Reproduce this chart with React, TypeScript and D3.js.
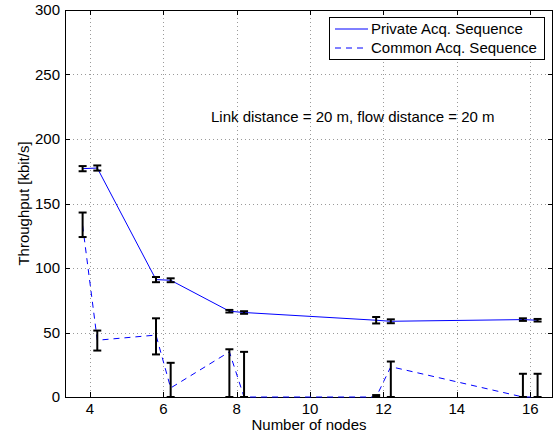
import * as d3 from "d3";
import React from "react";

// node counts are drawn with a small left/right offset per series pair
const xPos = [3.8, 4.2, 5.8, 6.2, 7.8, 8.2, 11.8, 12.2, 15.8, 16.2];
const privateMean = [177, 177.5, 91, 90.5, 66.5, 65.5, 59.5, 58.7, 60, 59.5];
const privateErr = [2, 2, 2, 1.5, 1, 1, 2.5, 1.5, 1, 1];
const commonMean = [133, 44, 48, 7, 35, 0, 0, 23.5, 0, 0];
const commonLo = [124, 36, 33, 0, 0, 0, 0, 0, 0, 0];
const commonHi = [143, 51.5, 61, 26.5, 37, 35, 1.5, 27.5, 18, 18];
const xTicks = [4, 6, 8, 10, 12, 14, 16];
const yTicks = [0, 50, 100, 150, 200, 250, 300];
const legendLabels = ["Private Acq. Sequence", "Common Acq. Sequence"];

const W = 555;
const H = 435;
const FONT = "'Liberation Sans', Arial, Helvetica, sans-serif";
const FS = 15;

const App = () => {
  const ref = React.useRef<SVGSVGElement>(null);

  React.useEffect(() => {
    const svg = d3.select(ref.current);
    svg.selectAll("*").remove();

    const left = 65, right = 553, top = 10, bottom = 397;
    const x = d3.scaleLinear().domain([3.32, 16.62]).range([left, right]);
    const y = d3.scaleLinear().domain([0, 300]).range([bottom, top]);

    svg.append("rect").attr("width", W).attr("height", H).attr("fill", "white");

    // grid
    const grid = svg.append("g").attr("stroke", "#9a9a9a").attr("stroke-width", 1)
      .attr("stroke-dasharray", "1,3");
    grid.selectAll("line.gx").data(xTicks).enter().append("line")
      .attr("x1", (d) => Math.round(x(d)) + 0.5).attr("x2", (d) => Math.round(x(d)) + 0.5)
      .attr("y1", top).attr("y2", bottom);
    grid.selectAll("line.gy").data(yTicks.slice(1, -1)).enter().append("line")
      .attr("x1", left).attr("x2", right)
      .attr("y1", (d) => Math.round(y(d)) + 0.5).attr("y2", (d) => Math.round(y(d)) + 0.5);

    // axes box + inward ticks
    const ax = svg.append("g").attr("stroke", "black").attr("stroke-width", 1);
    ax.append("rect").attr("x", left + 0.5).attr("y", top + 0.5)
      .attr("width", right - left - 1).attr("height", bottom - top).attr("fill", "none");
    xTicks.forEach((t) => {
      const px = Math.round(x(t)) + 0.5;
      ax.append("line").attr("x1", px).attr("x2", px).attr("y1", bottom).attr("y2", bottom - 5);
      ax.append("line").attr("x1", px).attr("x2", px).attr("y1", top).attr("y2", top + 5);
    });
    yTicks.forEach((t) => {
      const py = Math.round(y(t)) + 0.5;
      ax.append("line").attr("x1", left).attr("x2", left + 5).attr("y1", py).attr("y2", py);
      ax.append("line").attr("x1", right).attr("x2", right - 5).attr("y1", py).attr("y2", py);
    });

    const txt = svg.append("g").attr("font-family", FONT).attr("font-size", FS).attr("fill", "black");
    txt.selectAll("text.xt").data(xTicks).enter().append("text")
      .attr("x", (d) => x(d)).attr("y", 414).attr("text-anchor", "middle").text((d) => d);
    txt.selectAll("text.yt").data(yTicks).enter().append("text")
      .attr("x", left - 5).attr("y", (d) => y(d) + 5).attr("text-anchor", "end").text((d) => d);
    txt.append("text").attr("x", (left + right) / 2).attr("y", 430).attr("text-anchor", "middle")
      .text("Number of nodes");
    txt.append("text").attr("transform", `translate(29,${(top + bottom) / 2}) rotate(-90)`)
      .attr("text-anchor", "middle").text("Throughput [kbit/s]");
    txt.append("text").attr("x", 211).attr("y", 122).text("Link distance = 20 m, flow distance = 20 m");

    const line = d3.line<number>().x((d, i) => x(xPos[i])).y((d) => y(d));

    svg.append("path").datum(privateMean).attr("d", line).attr("fill", "none")
      .attr("stroke", "#0000ff").attr("stroke-width", 1);
    svg.append("path").datum(commonMean).attr("d", line).attr("fill", "none")
      .attr("stroke", "#0000ff").attr("stroke-width", 1).attr("stroke-dasharray", "6,5");

    // error bars
    const bars = xPos.map((xv, i) => ({ x: xv, lo: privateMean[i] - privateErr[i], hi: privateMean[i] + privateErr[i] }))
      .concat(xPos.map((xv, i) => ({ x: xv, lo: commonLo[i], hi: commonHi[i] })));
    const eb = svg.append("g").attr("stroke", "black").attr("stroke-width", 2).attr("fill", "none");
    const cap = 4;
    bars.forEach((b) => {
      const px = x(b.x);
      eb.append("line").attr("x1", px).attr("x2", px).attr("y1", y(b.lo)).attr("y2", y(b.hi));
      eb.append("line").attr("x1", px - cap).attr("x2", px + cap).attr("y1", y(b.lo)).attr("y2", y(b.lo));
      eb.append("line").attr("x1", px - cap).attr("x2", px + cap).attr("y1", y(b.hi)).attr("y2", y(b.hi));
    });

    // legend
    const lg = svg.append("g");
    lg.append("rect").attr("x", 329.5).attr("y", 17.5).attr("width", 215).attr("height", 42)
      .attr("fill", "white").attr("stroke", "black").attr("stroke-width", 1);
    legendLabels.forEach((lab, i) => {
      const ly = 29 + i * 19;
      lg.append("line").attr("x1", 335).attr("x2", 368).attr("y1", ly).attr("y2", ly)
        .attr("stroke", "#0000ff").attr("stroke-width", 1)
        .attr("stroke-dasharray", i === 1 ? "6,5" : null);
      lg.append("text").attr("x", 371).attr("y", ly + 5).attr("font-family", FONT)
        .attr("font-size", FS).text(lab);
    });
  }, []);

  return (
    <div style={{ position: "absolute", left: 0, top: 0 }}>
      <svg ref={ref} width={W} height={H} style={{ display: "block" }}></svg>
    </div>
  );
};

export default App;
